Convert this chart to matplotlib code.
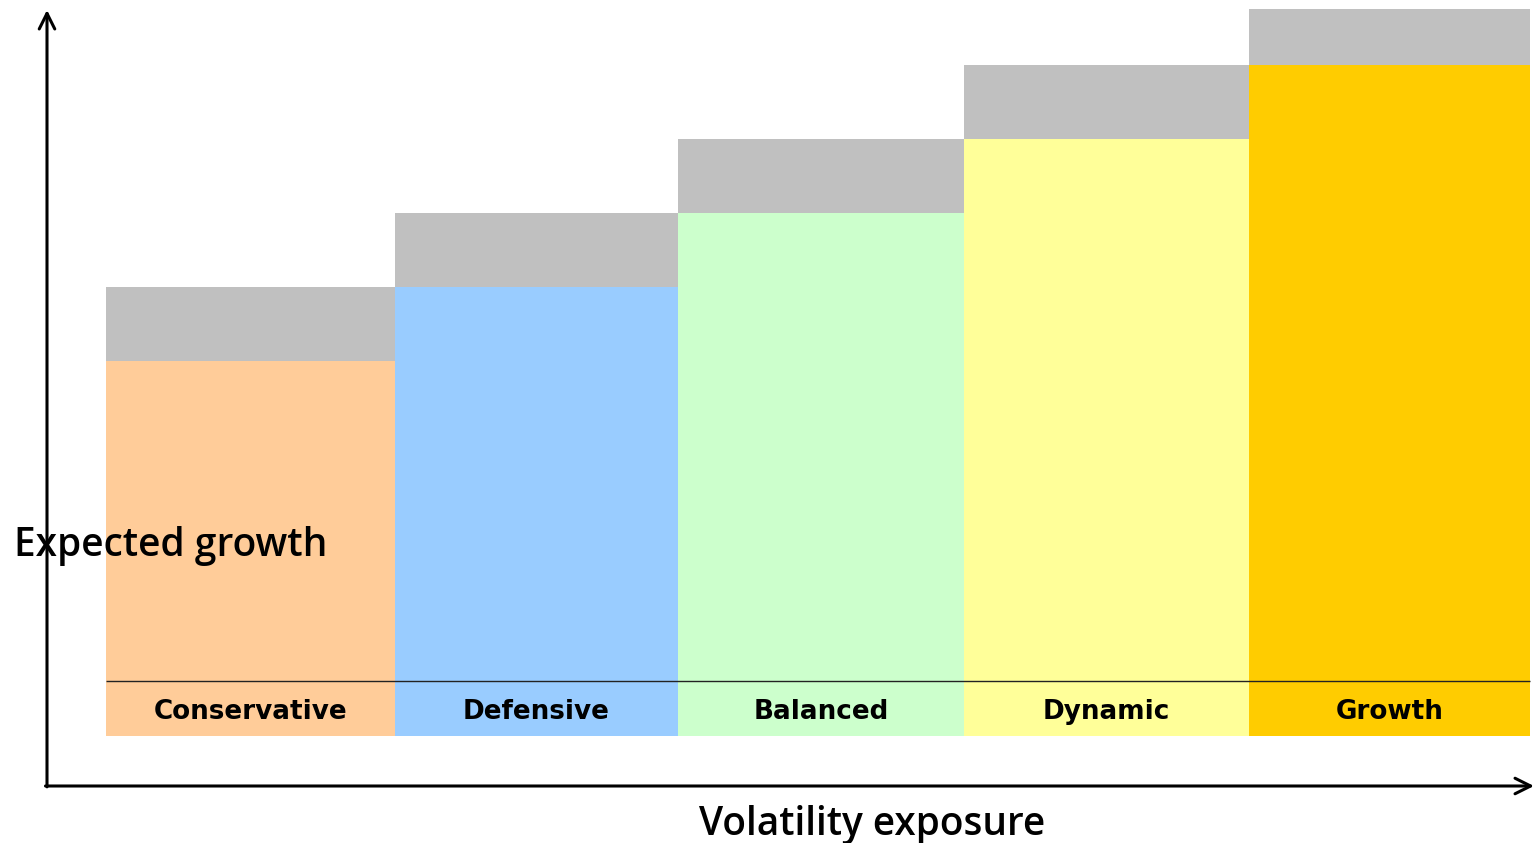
import matplotlib
matplotlib.use("Agg")
import matplotlib.pyplot as plt
import numpy as np

categories = ["Conservative", "Defensive", "Balanced", "Dynamic", "Growth"]
expected_growth = [5.07, 6.07, 7.07, 8.07, 9.07]
volatility_band = [1.0, 1.0, 1.0, 1.0, 0.76]
category_widths = [1.014, 0.993, 1.004, 1.0, 0.986]
label_strip = 0.74
colors = ["#FFCC99", "#99CCFF", "#CCFFCC", "#FFFF99", "#FFCC00"]
band_color = "#C0C0C0"

fig = plt.figure(figsize=(15.36, 8.43), dpi=100)
ax = fig.add_axes([0, 0, 1, 1])
ax.set_xlim(-0.372, 5.017)
ax.set_ylim(-1.446, 9.946)
ax.axis("off")

lefts = np.concatenate([[0], np.cumsum(category_widths)[:-1]])
centers = lefts + np.array(category_widths) / 2
ax.bar(lefts, expected_growth, width=category_widths, align="edge", color=colors, linewidth=0)
ax.bar(lefts, volatility_band, bottom=expected_growth, width=category_widths, align="edge",
       color=band_color, linewidth=0)
ax.hlines(label_strip, lefts[0], lefts[-1] + category_widths[-1], color="#222222", linewidth=1.0)
for xc, name in zip(centers, categories):
    ax.text(xc, label_strip / 2 - 0.04, name, ha="center", va="center",
            fontsize=18.9, fontweight="bold", family="DejaVu Sans", color="black")

# axes arrows
ox, oy = 47 / 1536, 1 - 786 / 843
ax.annotate("", xy=(ox, 1 - 10 / 843), xytext=(ox, oy - 0.001), xycoords="axes fraction",
            arrowprops=dict(arrowstyle="->", lw=2.2, color="black", mutation_scale=28,
                            shrinkA=0, shrinkB=0))
ax.annotate("", xy=(1534 / 1536, oy), xytext=(ox - 0.001, oy), xycoords="axes fraction",
            arrowprops=dict(arrowstyle="->", lw=2.2, color="black", mutation_scale=28,
                            shrinkA=0, shrinkB=0))

ax.text(14 / 1536, 1 - 556 / 843, "Expected growth", transform=ax.transAxes,
        ha="left", va="baseline", fontsize=28, fontweight="semibold", family="Open Sans", color="black")
ax.text(872 / 1536, 1 - 835 / 843, "Volatility exposure", transform=ax.transAxes,
        ha="center", va="baseline", fontsize=27.9, fontweight="semibold", family="Open Sans", color="black")

fig.savefig("out.png", dpi=100)
